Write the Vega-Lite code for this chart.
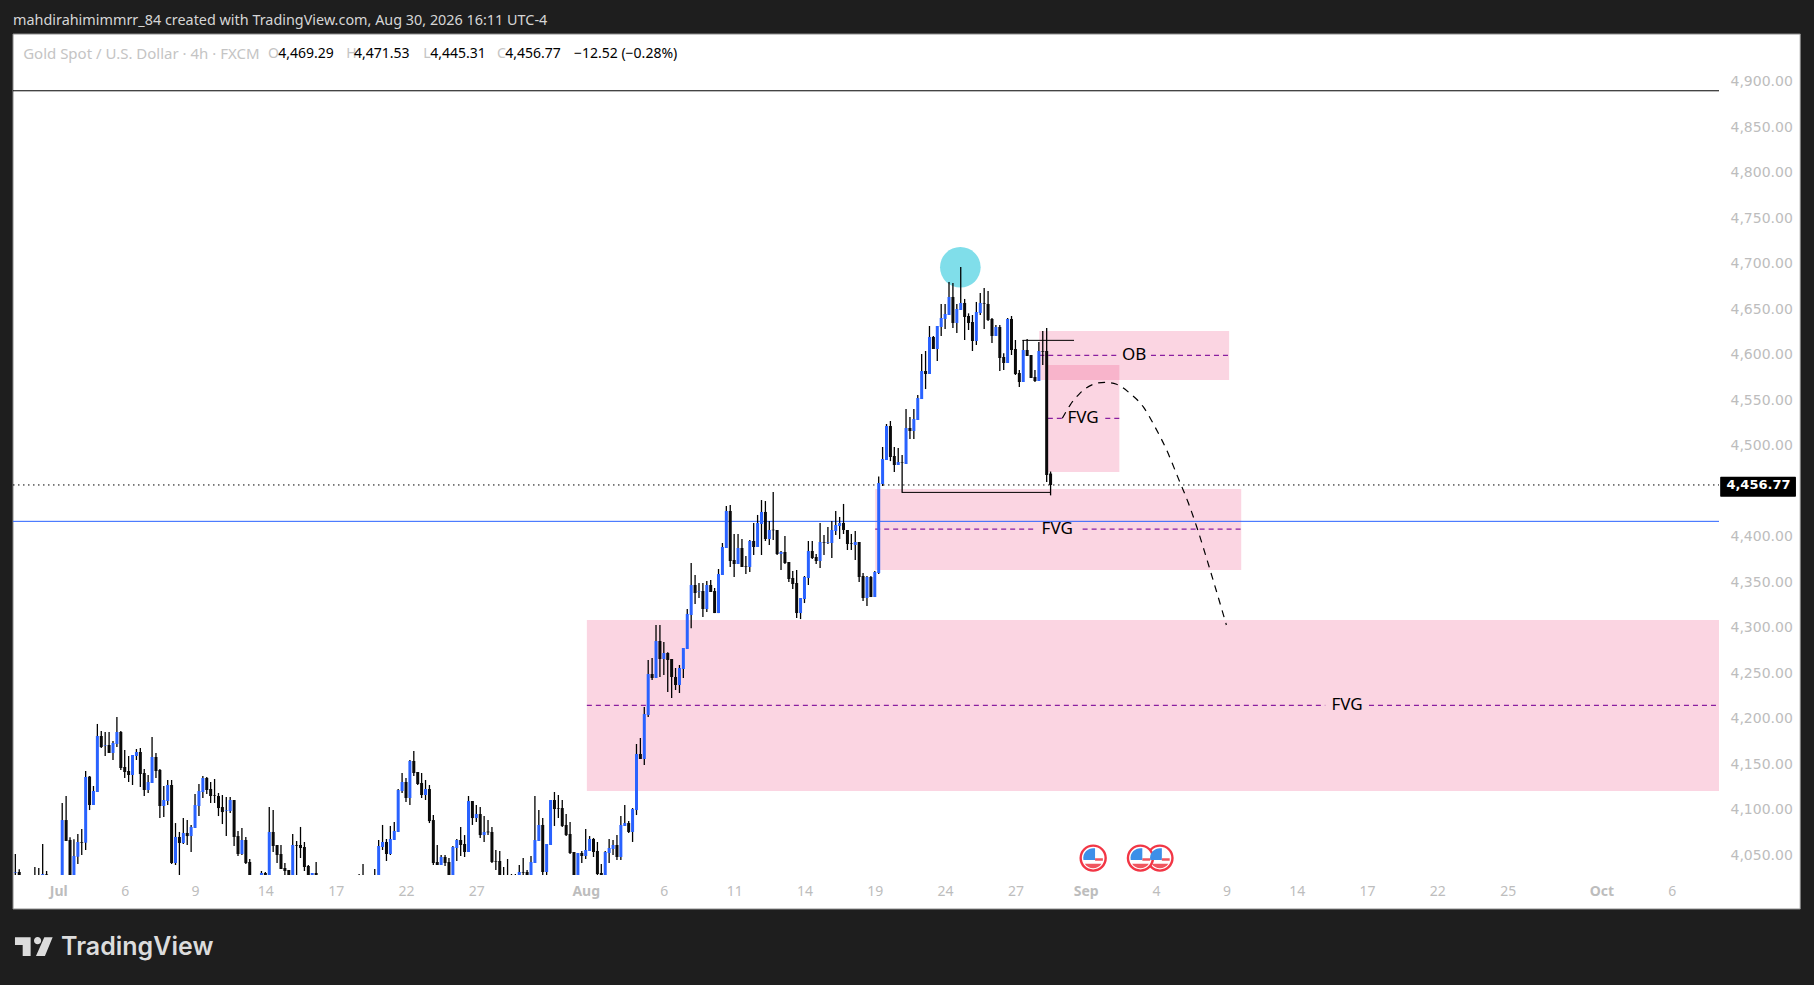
{
  "$schema": "https://vega.github.io/schema/vega-lite/v6.json",
  "width": 1706,
  "height": 841,
  "autosize": {"type": "none"},
  "padding": {"left": 13, "top": 34, "right": 95, "bottom": 110},
  "background": "#1e1e1e",
  "title": {"text": "mahdirahimimmrr_84 created with TradingView.com, Aug 30, 2026 16:11 UTC-4", "anchor": "start", "frame": "group", "offset": 5, "color": "#d6d6d6", "font": "Noto Sans", "fontSize": 14.4, "fontWeight": "normal"},
  "datasets": {
    "panel": [{"bar": -0.597, "bar2": 456.9, "price": 3990.7, "price2": 4952.4}],
    "zones": [
      {"name": "big FVG", "bar": 146.3, "bar2": 436.1, "price": 4120.4, "price2": 4308.3},
      {"name": "mid FVG", "bar": 220.1, "bar2": 313.8, "price": 4363.3, "price2": 4452.3},
      {"name": "small FVG", "bar": 264.3, "bar2": 282.6, "price": 4471, "price2": 4588.6},
      {"name": "OB", "bar": 262.1, "bar2": 310.7, "price": 4572.1, "price2": 4626}
    ],
    "levels": [
      {"kind": "solid", "bar": -0.597, "bar2": 436.1, "price": 4890},
      {"kind": "blue", "bar": -0.597, "bar2": 436.1, "price": 4416.8},
      {"kind": "close", "bar": -0.597, "bar2": 436.1, "price": 4456.77},
      {"kind": "mid", "bar": 146.3, "bar2": 335.3, "price": 4214.6},
      {"kind": "mid", "bar": 346.5, "bar2": 436.1, "price": 4214.6},
      {"kind": "mid", "bar": 220.1, "bar2": 261.5, "price": 4408.3},
      {"kind": "mid", "bar": 273.2, "bar2": 313.8, "price": 4408.3},
      {"kind": "mid", "bar": 264.3, "bar2": 268.2, "price": 4530},
      {"kind": "mid", "bar": 279, "bar2": 282.6, "price": 4530},
      {"kind": "mid", "bar": 262.1, "bar2": 282.2, "price": 4599.2},
      {"kind": "mid", "bar": 290.7, "bar2": 310.7, "price": 4599.2},
      {"kind": "solid", "bar": 226.9, "bar2": 265, "price": 4448.6},
      {"kind": "solid", "bar": 257.8, "bar2": 271, "price": 4615.7}
    ],
    "peak": [{"bar": 241.9, "price": 4696}],
    "candles": [
      {"bar":0,"open":4030.7,"high":4051.2,"low":4028.1,"close":4031.4},
      {"bar":1,"open":4031.4,"high":4034.3,"low":4028.1,"close":4028.1},
      {"bar":5,"open":4028.1,"high":4036.9,"low":4028.1,"close":4028.1},
      {"bar":6,"open":4028.1,"high":4035.8,"low":4028.1,"close":4028.1},
      {"bar":7,"open":4028.1,"high":4062.2,"low":4028.1,"close":4029.2},
      {"bar":8,"open":4028.8,"high":4032.5,"low":4028.1,"close":4028.1},
      {"bar":12,"open":4028.1,"high":4107.2,"low":4028.1,"close":4088.5},
      {"bar":13,"open":4088.5,"high":4114.9,"low":4065.5,"close":4065.5},
      {"bar":14,"open":4066.6,"high":4069.5,"low":4028.1,"close":4028.1},
      {"bar":15,"open":4028.1,"high":4067.3,"low":4028.1,"close":4049},
      {"bar":16,"open":4048.2,"high":4073.2,"low":4040.2,"close":4064.4},
      {"bar":17,"open":4064.4,"high":4078.6,"low":4050.1,"close":4063.6},
      {"bar":18,"open":4063.6,"high":4142.4,"low":4055.6,"close":4135.8},
      {"bar":19,"open":4136.2,"high":4136.9,"low":4099.5,"close":4105},
      {"bar":20,"open":4105,"high":4125.9,"low":4105,"close":4120.4},
      {"bar":21,"open":4119.3,"high":4194.1,"low":4119.3,"close":4180.9},
      {"bar":22,"open":4180.9,"high":4186.4,"low":4167.7,"close":4168.8},
      {"bar":23,"open":4170.3,"high":4185.3,"low":4158.9,"close":4171},
      {"bar":24,"open":4171,"high":4185.3,"low":4162.2,"close":4162.2},
      {"bar":25,"open":4162.2,"high":4175.4,"low":4154.5,"close":4173.2},
      {"bar":26,"open":4172.1,"high":4201.8,"low":4168.8,"close":4185.3},
      {"bar":27,"open":4185.3,"high":4186.4,"low":4143.5,"close":4145.7},
      {"bar":28,"open":4146.8,"high":4165.5,"low":4134.7,"close":4141.3},
      {"bar":29,"open":4142.4,"high":4158.9,"low":4130.3,"close":4138},
      {"bar":30,"open":4138,"high":4160,"low":4127,"close":4160},
      {"bar":31,"open":4158.9,"high":4166.6,"low":4154.5,"close":4163.3},
      {"bar":32,"open":4163.3,"high":4167.7,"low":4124.8,"close":4139.1},
      {"bar":33,"open":4140.2,"high":4144.6,"low":4114.9,"close":4121.5},
      {"bar":34,"open":4121.5,"high":4138,"low":4118.2,"close":4130.3},
      {"bar":35,"open":4129.2,"high":4179.8,"low":4129.2,"close":4157.8},
      {"bar":36,"open":4157.8,"high":4162.2,"low":4134.7,"close":4142.4},
      {"bar":37,"open":4143.5,"high":4144.6,"low":4090.7,"close":4103.9},
      {"bar":38,"open":4103.9,"high":4125.9,"low":4091.8,"close":4110.5},
      {"bar":39,"open":4109.4,"high":4132.5,"low":4105,"close":4127},
      {"bar":40,"open":4127,"high":4132.5,"low":4040.2,"close":4041.3},
      {"bar":41,"open":4041.3,"high":4085.2,"low":4039.1,"close":4069.9},
      {"bar":42,"open":4069.9,"high":4075.4,"low":4028.1,"close":4063.3},
      {"bar":43,"open":4063.3,"high":4090.7,"low":4062.2,"close":4074.3},
      {"bar":44,"open":4074.3,"high":4088.5,"low":4061.1,"close":4070.9},
      {"bar":45,"open":4070.9,"high":4083.1,"low":4053.4,"close":4080.9},
      {"bar":46,"open":4079.8,"high":4117.1,"low":4079.8,"close":4105},
      {"bar":47,"open":4103.9,"high":4128.1,"low":4092.9,"close":4120.4},
      {"bar":48,"open":4119.3,"high":4136.9,"low":4112.7,"close":4134.7},
      {"bar":49,"open":4134.7,"high":4135.8,"low":4117.1,"close":4121.5},
      {"bar":50,"open":4122.6,"high":4130.3,"low":4107.2,"close":4114.9},
      {"bar":51,"open":4116,"high":4133.6,"low":4107.2,"close":4115.3},
      {"bar":52,"open":4114.9,"high":4118.2,"low":4092.9,"close":4101.7},
      {"bar":53,"open":4102.8,"high":4116,"low":4084.1,"close":4097.3},
      {"bar":54,"open":4098.8,"high":4113.8,"low":4070.9,"close":4099.5},
      {"bar":55,"open":4098.4,"high":4113.8,"low":4096.2,"close":4110.5},
      {"bar":56,"open":4110.5,"high":4110.5,"low":4060,"close":4069.9},
      {"bar":57,"open":4070.9,"high":4076.5,"low":4049,"close":4051.2},
      {"bar":58,"open":4051.2,"high":4079.8,"low":4050.1,"close":4066.6},
      {"bar":59,"open":4066.6,"high":4069.9,"low":4040.2,"close":4041.3},
      {"bar":60,"open":4042.4,"high":4045.7,"low":4028.1,"close":4028.1},
      {"bar":63,"open":4028.1,"high":4032.5,"low":4028.1,"close":4030.3},
      {"bar":64,"open":4030.3,"high":4031.4,"low":4028.1,"close":4028.1},
      {"bar":65,"open":4028.1,"high":4102.8,"low":4028.1,"close":4075.4},
      {"bar":66,"open":4075.4,"high":4099.5,"low":4053.4,"close":4060},
      {"bar":67,"open":4061.1,"high":4061.1,"low":4041.3,"close":4050.1},
      {"bar":68,"open":4051.2,"high":4061.1,"low":4034.7,"close":4034.7},
      {"bar":69,"open":4035.8,"high":4041.3,"low":4028.1,"close":4032.5},
      {"bar":70,"open":4033.6,"high":4033.6,"low":4028.1,"close":4028.1},
      {"bar":71,"open":4028.1,"high":4073.2,"low":4028.1,"close":4061.1},
      {"bar":72,"open":4061.1,"high":4065.5,"low":4028.1,"close":4060.3},
      {"bar":73,"open":4061.1,"high":4080.9,"low":4046.8,"close":4057.8},
      {"bar":74,"open":4058.9,"high":4064.4,"low":4032.5,"close":4036.9},
      {"bar":75,"open":4038,"high":4039.1,"low":4028.1,"close":4028.1},
      {"bar":76,"open":4028.1,"high":4030.3,"low":4028.1,"close":4030.3},
      {"bar":77,"open":4030.3,"high":4042.4,"low":4028.1,"close":4028.1},
      {"bar":88,"open":4028.1,"high":4029.2,"low":4028.1,"close":4028.1},
      {"bar":89,"open":4028.1,"high":4040.2,"low":4028.1,"close":4028.1},
      {"bar":92,"open":4028.1,"high":4034.7,"low":4028.1,"close":4028.1},
      {"bar":93,"open":4028.1,"high":4066.6,"low":4028.1,"close":4060},
      {"bar":94,"open":4058.9,"high":4083.1,"low":4055.6,"close":4064.4},
      {"bar":95,"open":4064.4,"high":4067.7,"low":4043.5,"close":4051.2},
      {"bar":96,"open":4051.2,"high":4082,"low":4050.1,"close":4067.7},
      {"bar":97,"open":4066.6,"high":4086.3,"low":4066.6,"close":4076.5},
      {"bar":98,"open":4075.4,"high":4122.6,"low":4075.4,"close":4121.5},
      {"bar":99,"open":4120.4,"high":4140.2,"low":4118.2,"close":4130.3},
      {"bar":100,"open":4130.3,"high":4134.7,"low":4108.3,"close":4112.7},
      {"bar":101,"open":4112.7,"high":4154.5,"low":4105,"close":4153.4},
      {"bar":102,"open":4153.4,"high":4164.4,"low":4136.9,"close":4140.2},
      {"bar":103,"open":4141.3,"high":4141.3,"low":4127,"close":4128.1},
      {"bar":104,"open":4129.2,"high":4140.2,"low":4112.7,"close":4116},
      {"bar":105,"open":4116,"high":4132.5,"low":4110.5,"close":4122.6},
      {"bar":106,"open":4122.6,"high":4127,"low":4085.2,"close":4087.4},
      {"bar":107,"open":4088.5,"high":4094,"low":4039.1,"close":4041.3},
      {"bar":108,"open":4042.4,"high":4061.1,"low":4039.1,"close":4039.1},
      {"bar":109,"open":4039.1,"high":4050.1,"low":4039.1,"close":4047.9},
      {"bar":110,"open":4047.9,"high":4050.1,"low":4038,"close":4041.3},
      {"bar":111,"open":4042.4,"high":4046.8,"low":4028.1,"close":4028.1},
      {"bar":112,"open":4028.1,"high":4060,"low":4028.1,"close":4058.9},
      {"bar":113,"open":4057.8,"high":4067.7,"low":4043.5,"close":4066.6},
      {"bar":114,"open":4066.6,"high":4080.9,"low":4049,"close":4061.1},
      {"bar":115,"open":4062.2,"high":4072,"low":4047.9,"close":4053.4},
      {"bar":116,"open":4053.4,"high":4114.9,"low":4053.4,"close":4109.4},
      {"bar":117,"open":4109.4,"high":4109.4,"low":4083.1,"close":4090.7},
      {"bar":118,"open":4090.7,"high":4105,"low":4086.3,"close":4095.1},
      {"bar":119,"open":4095.1,"high":4102.8,"low":4068.8,"close":4072},
      {"bar":120,"open":4072,"high":4092.9,"low":4064.4,"close":4075.4},
      {"bar":121,"open":4075.8,"high":4088.5,"low":4072,"close":4075},
      {"bar":122,"open":4075.4,"high":4080.9,"low":4041.3,"close":4042.4},
      {"bar":123,"open":4043.5,"high":4055.6,"low":4033.6,"close":4042.8},
      {"bar":124,"open":4043.5,"high":4054.5,"low":4028.1,"close":4028.1},
      {"bar":125,"open":4028.1,"high":4036.9,"low":4028.1,"close":4028.1},
      {"bar":126,"open":4028.1,"high":4045.7,"low":4028.1,"close":4028.1},
      {"bar":127,"open":4028.1,"high":4029.2,"low":4028.1,"close":4028.1},
      {"bar":128,"open":4028.1,"high":4029.2,"low":4028.1,"close":4028.1},
      {"bar":129,"open":4028.1,"high":4039.1,"low":4028.1,"close":4031.4},
      {"bar":130,"open":4031.4,"high":4046.8,"low":4028.1,"close":4030.7},
      {"bar":131,"open":4031.4,"high":4033.6,"low":4028.1,"close":4028.1},
      {"bar":132,"open":4028.1,"high":4049,"low":4028.1,"close":4042.4},
      {"bar":133,"open":4041.3,"high":4114.9,"low":4041.3,"close":4066.6},
      {"bar":134,"open":4065.5,"high":4099.5,"low":4065.5,"close":4083.1},
      {"bar":135,"open":4083.1,"high":4090.7,"low":4028.1,"close":4031.4},
      {"bar":136,"open":4031.4,"high":4062.2,"low":4028.1,"close":4062.2},
      {"bar":137,"open":4061.1,"high":4110.5,"low":4061.1,"close":4110.5},
      {"bar":138,"open":4110.5,"high":4119.3,"low":4082,"close":4100.6},
      {"bar":139,"open":4101.7,"high":4116,"low":4090.7,"close":4101},
      {"bar":140,"open":4101.7,"high":4110.5,"low":4080.9,"close":4082},
      {"bar":141,"open":4083.1,"high":4095.1,"low":4070.9,"close":4072},
      {"bar":142,"open":4073.2,"high":4086.3,"low":4051.2,"close":4052.3},
      {"bar":143,"open":4053.4,"high":4053.4,"low":4028.1,"close":4028.1},
      {"bar":144,"open":4028.1,"high":4052.3,"low":4028.1,"close":4052.3},
      {"bar":145,"open":4052.3,"high":4054.5,"low":4041.3,"close":4049},
      {"bar":146,"open":4049,"high":4078.6,"low":4045.7,"close":4055.6},
      {"bar":147,"open":4054.5,"high":4070.9,"low":4054.5,"close":4067.7},
      {"bar":148,"open":4067.7,"high":4068.8,"low":4047.9,"close":4053.4},
      {"bar":149,"open":4054.5,"high":4064.4,"low":4028.1,"close":4029.2},
      {"bar":150,"open":4030.3,"high":4040.2,"low":4028.1,"close":4028.1},
      {"bar":151,"open":4028.1,"high":4054.5,"low":4028.1,"close":4053.4},
      {"bar":152,"open":4052.3,"high":4067.7,"low":4041.3,"close":4057.8},
      {"bar":153,"open":4056.7,"high":4066.6,"low":4050.1,"close":4061.1},
      {"bar":154,"open":4061.1,"high":4072,"low":4044.6,"close":4047.9},
      {"bar":155,"open":4047.9,"high":4092.9,"low":4044.6,"close":4083.1},
      {"bar":156,"open":4082,"high":4105,"low":4082,"close":4085.2},
      {"bar":157,"open":4085.2,"high":4087.4,"low":4074.3,"close":4075.4},
      {"bar":158,"open":4075.4,"high":4101.7,"low":4064.4,"close":4100.6},
      {"bar":159,"open":4099.5,"high":4172.1,"low":4094,"close":4161.1},
      {"bar":160,"open":4161.1,"high":4178.7,"low":4155.6,"close":4155.6},
      {"bar":161,"open":4155.6,"high":4212.8,"low":4149,"close":4205},
      {"bar":162,"open":4203.9,"high":4264.4,"low":4201.8,"close":4249},
      {"bar":163,"open":4249,"high":4266.6,"low":4242.4,"close":4244.6},
      {"bar":164,"open":4244.6,"high":4302.8,"low":4244.6,"close":4285.3},
      {"bar":165,"open":4285.3,"high":4302.8,"low":4245.7,"close":4265.5},
      {"bar":166,"open":4265.5,"high":4284.2,"low":4247.9,"close":4272.1},
      {"bar":167,"open":4272.1,"high":4272.8,"low":4229.2,"close":4264.4},
      {"bar":168,"open":4265.5,"high":4265.5,"low":4222.6,"close":4245.7},
      {"bar":169,"open":4245.7,"high":4255.6,"low":4231.4,"close":4236.9},
      {"bar":170,"open":4236.9,"high":4258.9,"low":4228.1,"close":4255.6},
      {"bar":171,"open":4254.5,"high":4277.6,"low":4244.6,"close":4277.6},
      {"bar":172,"open":4276.5,"high":4320.4,"low":4276.5,"close":4315},
      {"bar":173,"open":4313.8,"high":4371,"low":4299.2,"close":4346.8},
      {"bar":174,"open":4346.8,"high":4357.8,"low":4325.9,"close":4338},
      {"bar":175,"open":4339.1,"high":4349,"low":4332.5,"close":4339.9},
      {"bar":176,"open":4340.2,"high":4349,"low":4311.6,"close":4320.4},
      {"bar":177,"open":4320.4,"high":4351.2,"low":4317.1,"close":4346.8},
      {"bar":178,"open":4346.8,"high":4352.3,"low":4339.1,"close":4339.1},
      {"bar":179,"open":4340.2,"high":4343.5,"low":4316,"close":4316},
      {"bar":180,"open":4316,"high":4364.4,"low":4316,"close":4358.9},
      {"bar":181,"open":4357.8,"high":4393,"low":4357.8,"close":4388.6},
      {"bar":182,"open":4387.5,"high":4433.7,"low":4387.5,"close":4428.2},
      {"bar":183,"open":4428.2,"high":4434.8,"low":4366.6,"close":4373.2},
      {"bar":184,"open":4374.3,"high":4402.9,"low":4355.6,"close":4369.9},
      {"bar":185,"open":4369.9,"high":4402.9,"low":4369.9,"close":4387.5},
      {"bar":186,"open":4387.5,"high":4397.4,"low":4366.6,"close":4366.6},
      {"bar":187,"open":4367.7,"high":4378.7,"low":4358.9,"close":4367},
      {"bar":188,"open":4366.6,"high":4396.3,"low":4361.1,"close":4395.2},
      {"bar":189,"open":4395.2,"high":4415,"low":4379.8,"close":4388.6},
      {"bar":190,"open":4388.6,"high":4423.8,"low":4388.6,"close":4415},
      {"bar":191,"open":4413.9,"high":4440.2,"low":4379.8,"close":4427.1},
      {"bar":192,"open":4427.1,"high":4439.1,"low":4395.2,"close":4397.4},
      {"bar":193,"open":4397.4,"high":4417.2,"low":4390.8,"close":4407.3},
      {"bar":194,"open":4407.6,"high":4449,"low":4396.3,"close":4407},
      {"bar":195,"open":4407.3,"high":4407.3,"low":4379.8,"close":4380.9},
      {"bar":196,"open":4380.9,"high":4384.2,"low":4363.3,"close":4383.1},
      {"bar":197,"open":4383.1,"high":4400.7,"low":4369.9,"close":4371},
      {"bar":198,"open":4372.1,"high":4372.1,"low":4350.1,"close":4353.4},
      {"bar":199,"open":4354.5,"high":4362.2,"low":4342.4,"close":4347.9},
      {"bar":200,"open":4349,"high":4363.3,"low":4310.5,"close":4316},
      {"bar":201,"open":4316,"high":4332.5,"low":4309.4,"close":4332.5},
      {"bar":202,"open":4331.4,"high":4356.7,"low":4327,"close":4355.6},
      {"bar":203,"open":4354.5,"high":4395.2,"low":4346.8,"close":4384.2},
      {"bar":204,"open":4384.2,"high":4395.2,"low":4375.4,"close":4376.5},
      {"bar":205,"open":4377.6,"high":4380.9,"low":4369.9,"close":4373.2},
      {"bar":206,"open":4373.2,"high":4415,"low":4365.5,"close":4394.1},
      {"bar":207,"open":4394,"high":4401.8,"low":4379.8,"close":4393.3},
      {"bar":208,"open":4393.3,"high":4410.6,"low":4391.9,"close":4394},
      {"bar":209,"open":4393,"high":4417.2,"low":4376.5,"close":4407.3},
      {"bar":210,"open":4406.2,"high":4428.2,"low":4401.8,"close":4412.8},
      {"bar":211,"open":4411.7,"high":4421.6,"low":4397.4,"close":4415},
      {"bar":212,"open":4415,"high":4435.9,"low":4402.9,"close":4407.3},
      {"bar":213,"open":4407.3,"high":4407.3,"low":4385.3,"close":4391.9},
      {"bar":214,"open":4392.9,"high":4402.9,"low":4385.3,"close":4392.2},
      {"bar":215,"open":4390.8,"high":4406.2,"low":4374.3,"close":4394.1},
      {"bar":216,"open":4394.1,"high":4394.1,"low":4350.1,"close":4355.6},
      {"bar":217,"open":4356.7,"high":4360,"low":4329.2,"close":4332.5},
      {"bar":218,"open":4332.5,"high":4356.7,"low":4323.7,"close":4355.6},
      {"bar":219,"open":4355.6,"high":4356.7,"low":4333.6,"close":4333.6},
      {"bar":220,"open":4333.6,"high":4362.2,"low":4333.6,"close":4361.1},
      {"bar":221,"open":4360,"high":4466,"low":4358.9,"close":4458.9},
      {"bar":222,"open":4457.8,"high":4498.5,"low":4455.6,"close":4485.3},
      {"bar":223,"open":4484.2,"high":4523.8,"low":4484.2,"close":4521.6},
      {"bar":224,"open":4521.6,"high":4527.1,"low":4483,"close":4487.5},
      {"bar":225,"open":4488.6,"high":4498.5,"low":4471,"close":4478.7},
      {"bar":226,"open":4478.7,"high":4497.4,"low":4478.7,"close":4482},
      {"bar":227,"open":4481.8,"high":4489.7,"low":4448.6,"close":4481.2},
      {"bar":228,"open":4479.8,"high":4540.2,"low":4479.8,"close":4519.4},
      {"bar":229,"open":4519.4,"high":4531.5,"low":4507.3,"close":4516.1},
      {"bar":230,"open":4516.1,"high":4540.2,"low":4507.3,"close":4529.3},
      {"bar":231,"open":4528.2,"high":4555.6,"low":4528.2,"close":4552.3},
      {"bar":232,"open":4551.2,"high":4600.7,"low":4551.2,"close":4582},
      {"bar":233,"open":4582,"high":4604,"low":4562.2,"close":4578.7},
      {"bar":234,"open":4578.7,"high":4631.5,"low":4578.7,"close":4619.4},
      {"bar":235,"open":4619.4,"high":4620.5,"low":4606.2,"close":4606.2},
      {"bar":236,"open":4606.2,"high":4631.5,"low":4593,"close":4631.5},
      {"bar":237,"open":4630.4,"high":4655.7,"low":4620.5,"close":4640.3},
      {"bar":238,"open":4639.2,"high":4655.7,"low":4628.2,"close":4644.7},
      {"bar":239,"open":4643.6,"high":4679.8,"low":4643.6,"close":4663.4},
      {"bar":240,"open":4663.4,"high":4678.7,"low":4629.3,"close":4634.8},
      {"bar":241,"open":4634.8,"high":4655.7,"low":4623.8,"close":4650.2},
      {"bar":242,"open":4649.1,"high":4696.3,"low":4649.1,"close":4656.8},
      {"bar":243,"open":4656.8,"high":4661.2,"low":4616.1,"close":4641.4},
      {"bar":244,"open":4642.5,"high":4645.4,"low":4627.1,"close":4634.8},
      {"bar":245,"open":4635.9,"high":4643.6,"low":4604,"close":4615},
      {"bar":246,"open":4615,"high":4657.9,"low":4610.6,"close":4646.9},
      {"bar":247,"open":4645.8,"high":4667.8,"low":4643.6,"close":4656.8},
      {"bar":248,"open":4656.8,"high":4673.2,"low":4628.2,"close":4656.1},
      {"bar":249,"open":4655.7,"high":4670,"low":4637,"close":4638.1},
      {"bar":250,"open":4639.2,"high":4640.3,"low":4612.8,"close":4620.5},
      {"bar":251,"open":4620.5,"high":4632.6,"low":4620.5,"close":4630.4},
      {"bar":252,"open":4630.4,"high":4632.6,"low":4582,"close":4596.3},
      {"bar":253,"open":4597.4,"high":4601.4,"low":4583.1,"close":4590.8},
      {"bar":254,"open":4590.8,"high":4640.3,"low":4590.8,"close":4639.2},
      {"bar":255,"open":4639.2,"high":4642.5,"low":4599.6,"close":4605.1},
      {"bar":256,"open":4606.2,"high":4616.1,"low":4577.6,"close":4578.7},
      {"bar":257,"open":4579.8,"high":4583.1,"low":4564.4,"close":4569.9},
      {"bar":258,"open":4569.9,"high":4616.1,"low":4569.9,"close":4605.1},
      {"bar":259,"open":4605.1,"high":4617.2,"low":4598.5,"close":4598.5},
      {"bar":260,"open":4599.6,"high":4599.6,"low":4574.3,"close":4574.3},
      {"bar":261,"open":4575.4,"high":4583.1,"low":4569.9,"close":4571},
      {"bar":262,"open":4571,"high":4613.9,"low":4571,"close":4604},
      {"bar":263,"open":4604,"high":4626,"low":4588.6,"close":4603.2},
      {"bar":264,"open":4604,"high":4629.3,"low":4460,"close":4467.7},
      {"bar":265,"open":4469.29,"high":4471.53,"low":4445.31,"close":4456.77}
    ],
    "projection": [
      {"bar":268,"price":4530},
      {"bar":270,"price":4544.6},
      {"bar":272.5,"price":4557.5},
      {"bar":275.9,"price":4567.4},
      {"bar":278.9,"price":4569.6},
      {"bar":281.9,"price":4567.4},
      {"bar":285.3,"price":4557.5},
      {"bar":288.7,"price":4542.8},
      {"bar":291.7,"price":4520.8},
      {"bar":294.7,"price":4495.2},
      {"bar":297.7,"price":4464},
      {"bar":300.3,"price":4436.6},
      {"bar":302.4,"price":4410.9},
      {"bar":305.6,"price":4366.6},
      {"bar":310,"price":4302.9}
    ],
    "zoneLabels": [
      {"bar": 286.4, "price": 4599.2, "text": "OB"},
      {"bar": 273.3, "price": 4530, "text": "FVG"},
      {"bar": 266.7, "price": 4408.3, "text": "FVG"},
      {"bar": 340.9, "price": 4214.6, "text": "FVG"}
    ],
    "instrument": [{"bar": 2, "price": 4930.5, "text": "Gold Spot / U.S. Dollar · 4h · FXCM"}],
    "readout": [
      {"bar": 64.7, "price": 4930.5, "text": "O", "tone": "muted"},
      {"bar": 67.3, "price": 4930.5, "text": "4,469.29", "tone": "value"},
      {"bar": 84.7, "price": 4930.5, "text": "H", "tone": "muted"},
      {"bar": 86.7, "price": 4930.5, "text": "4,471.53", "tone": "value"},
      {"bar": 104.4, "price": 4930.5, "text": "L", "tone": "muted"},
      {"bar": 106.2, "price": 4930.5, "text": "4,445.31", "tone": "value"},
      {"bar": 123.3, "price": 4930.5, "text": "C", "tone": "muted"},
      {"bar": 125.4, "price": 4930.5, "text": "4,456.77", "tone": "value"},
      {"bar": 143, "price": 4930.5, "text": "−12.52 (−0.28%)", "tone": "value"}
    ],
    "events": [
      {"bar": 275.9, "price": 4046.7},
      {"bar": 293, "price": 4046.7},
      {"bar": 288, "price": 4046.7}
    ],
    "lastPrice": [{"bar": 436.4, "bar2": 455.8, "price": 4443.8, "price2": 4465.8}],
    "lastPriceText": [{"bar": 446.2, "price": 4456.2, "text": "4,456.77"}],
    "logoMark": [{"bar": 4.73, "price": 3949.3}],
    "logoText": [{"bar": 11.7, "price": 3948.9, "text": "TradingView"}]
  },
  "encoding": {
    "x": {
      "field": "bar",
      "type": "quantitative",
      "scale": {"domain": [-0.597, 436.1], "nice": false, "zero": false},
      "axis": {
        "title": null,
        "grid": false,
        "domain": false,
        "ticks": false,
        "zindex": 1,
        "values": [11, 28, 46, 64, 82, 100, 118, 146, 166, 184, 202, 220, 238, 256, 274, 292, 310, 328, 346, 364, 382, 406, 424],
        "labelExpr": "{'11':'Jul','28':'6','46':'9','64':'14','82':'17','100':'22','118':'27','146':'Aug','166':'6','184':'11','202':'14','220':'19','238':'24','256':'27','274':'Sep','292':'4','310':'9','328':'14','346':'17','364':'22','382':'25','406':'Oct','424':'6'}['' + datum.value]",
        "labelFontWeight": {"condition": {"test": "datum.value == 11 || datum.value == 146 || datum.value == 274 || datum.value == 406", "value": "bold"}, "value": "normal"},
        "labelColor": "#bdbdbd",
        "labelFont": "Noto Sans",
        "labelFontSize": 14,
        "labelPadding": 9,
        "labelFlush": false,
        "labelOverlap": false
      }
    },
    "y": {
      "field": "price",
      "type": "quantitative",
      "scale": {"domain": [4028.1, 4952.4], "nice": false, "zero": false},
      "axis": {
        "title": null,
        "orient": "right",
        "grid": false,
        "domain": false,
        "ticks": false,
        "zindex": 1,
        "values": [4050, 4100, 4150, 4200, 4250, 4300, 4350, 4400, 4500, 4550, 4600, 4650, 4700, 4750, 4800, 4850, 4900],
        "format": ",.2f",
        "labelColor": "#bdbdbd",
        "labelFont": "DejaVu Sans",
        "labelFontSize": 14,
        "labelPadding": 11,
        "labelOverlap": false
      }
    }
  },
  "layer": [
    {
      "data": {"name": "panel"},
      "mark": {"type": "rect", "fill": "#ffffff", "stroke": "#8a8a8a", "strokeWidth": 1},
      "encoding": {"x2": {"field": "bar2"}, "y2": {"field": "price2"}}
    },
    {
      "data": {"name": "zones"},
      "mark": {"type": "rect", "fill": "#ec407a", "opacity": 0.22},
      "encoding": {"x2": {"field": "bar2"}, "y2": {"field": "price2"}}
    },
    {
      "data": {"name": "levels"},
      "transform": [{"filter": "datum.kind == 'mid'"}],
      "mark": {"type": "rule", "color": "#8a1fa0", "strokeWidth": 1.2, "strokeDash": [5, 4]},
      "encoding": {"x2": {"field": "bar2"}}
    },
    {
      "data": {"name": "levels"},
      "transform": [{"filter": "datum.kind == 'blue'"}],
      "mark": {"type": "rule", "color": "#2962ff", "strokeWidth": 1},
      "encoding": {"x2": {"field": "bar2"}}
    },
    {
      "data": {"name": "levels"},
      "transform": [{"filter": "datum.kind == 'close'"}],
      "mark": {"type": "rule", "color": "#000000", "strokeWidth": 1, "strokeDash": [1.5, 3.5]},
      "encoding": {"x2": {"field": "bar2"}}
    },
    {
      "data": {"name": "peak"},
      "mark": {"type": "point", "filled": true, "fill": "#80deea", "opacity": 1, "size": 1650, "strokeWidth": 0}
    },
    {
      "data": {"name": "candles"},
      "mark": {"type": "rule", "color": "#000000", "strokeWidth": 1.3},
      "encoding": {"y": {"field": "low", "type": "quantitative", "scale": {"domain": [4028.1, 4952.4], "nice": false, "zero": false}}, "y2": {"field": "high"}}
    },
    {
      "data": {"name": "candles"},
      "mark": {"type": "rule", "strokeWidth": 3},
      "encoding": {
        "y": {"field": "open", "type": "quantitative", "scale": {"domain": [4028.1, 4952.4], "nice": false, "zero": false}},
        "y2": {"field": "close"},
        "color": {"condition": {"test": "datum.close > datum.open", "value": "#2962ff"}, "value": "#0a0a0a"}
      }
    },
    {
      "data": {"name": "levels"},
      "transform": [{"filter": "datum.kind == 'solid'"}],
      "mark": {"type": "rule", "color": "#000000", "strokeWidth": 1},
      "encoding": {"x2": {"field": "bar2"}}
    },
    {
      "data": {"name": "projection"},
      "mark": {"type": "line", "color": "#000000", "strokeWidth": 1.2, "strokeDash": [7, 6], "interpolate": "monotone"},
      "encoding": {"order": {"field": "bar"}}
    },
    {
      "data": {"name": "zoneLabels"},
      "mark": {"type": "text", "font": "Noto Sans", "fontSize": 17, "color": "#000000", "align": "center", "baseline": "middle"},
      "encoding": {"text": {"field": "text"}}
    },
    {
      "data": {"name": "instrument"},
      "mark": {"type": "text", "font": "Noto Sans", "fontSize": 15, "color": "#c4c4c4", "align": "left", "baseline": "middle"},
      "encoding": {"text": {"field": "text"}}
    },
    {
      "data": {"name": "readout"},
      "mark": {"type": "text", "font": "Noto Sans", "fontSize": 14, "align": "left", "baseline": "middle"},
      "encoding": {
        "text": {"field": "text"},
        "color": {"field": "tone", "type": "nominal", "legend": null, "scale": {"domain": ["muted", "value"], "range": ["#c4c4c4", "#000000"]}}
      }
    },
    {
      "data": {"name": "events"},
      "mark": {"type": "point", "filled": true, "fill": "#ffffff", "stroke": "#f23645", "strokeWidth": 2.4, "opacity": 1, "size": 625}
    },
    {
      "data": {"name": "events"},
      "mark": {"type": "point", "shape": "M-0.72,0.14 L0.14,0.14 L0.14,-0.72 A0.73,0.73 0 0 0 -0.72,0.14 Z", "filled": true, "fill": "#3d8fe8", "opacity": 1, "size": 729, "strokeWidth": 0}
    },
    {
      "data": {"name": "events"},
      "mark": {"type": "point", "shape": "M0.14,0.02 L0.72,0.02 L0.72,0.2 L0.14,0.2 Z M-0.62,0.42 L0.62,0.42 A0.74,0.74 0 0 1 -0.62,0.42 Z", "filled": true, "fill": "#f0555f", "opacity": 1, "size": 729, "strokeWidth": 0}
    },
    {
      "data": {"name": "lastPrice"},
      "mark": {"type": "rect", "fill": "#000000", "cornerRadius": 1},
      "encoding": {"x2": {"field": "bar2"}, "y2": {"field": "price2"}}
    },
    {
      "data": {"name": "lastPriceText"},
      "mark": {"type": "text", "font": "DejaVu Sans", "fontSize": 13, "fontWeight": "bold", "color": "#ffffff", "align": "center", "baseline": "middle"},
      "encoding": {"text": {"field": "text"}}
    },
    {
      "data": {"name": "logoMark"},
      "mark": {"type": "point", "shape": "M-1,-0.495 L-0.168,-0.495 L-0.168,0.495 L-0.59,0.495 L-0.59,-0.088 L-1,-0.088 Z M0.01,-0.318 A0.19,0.19 0 1 0 0.39,-0.318 A0.19,0.19 0 1 0 0.01,-0.318 Z M0.557,-0.495 L1,-0.495 L0.59,0.495 L0.115,0.495 Z", "filled": true, "fill": "#dcdcdc", "opacity": 1, "size": 1421, "strokeWidth": 0}
    },
    {
      "data": {"name": "logoText"},
      "mark": {"type": "text", "font": "Inter", "fontSize": 25, "fontWeight": 600, "color": "#dcdcdc", "align": "left", "baseline": "middle"},
      "encoding": {"text": {"field": "text"}}
    }
  ],
  "config": {"view": {"stroke": null}}
}
